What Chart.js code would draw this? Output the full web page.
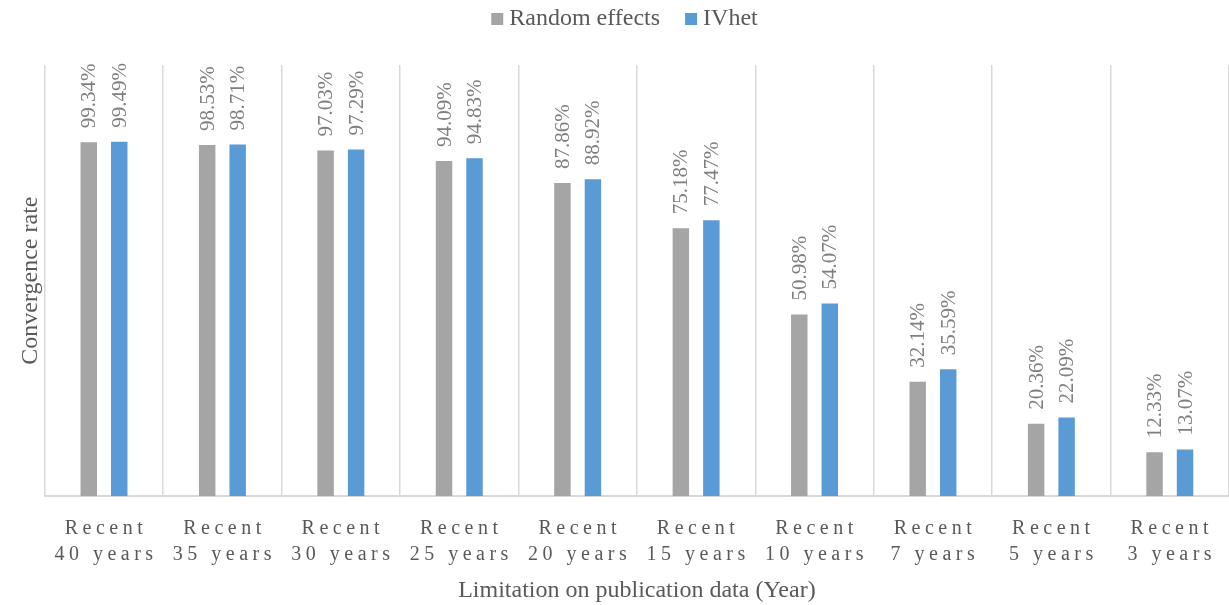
<!DOCTYPE html>
<html>
<head>
<meta charset="utf-8">
<script src="https://cdn.jsdelivr.net/npm/chart.js@4.4.1/dist/chart.umd.min.js"></script>
<style>
    html, body { margin: 0; padding: 0; background: #fff; }
    #wrap { width: 1229px; height: 605px; }
</style>
</head>
<body>
<div id="wrap"><canvas id="convChart" width="1229" height="605"></canvas></div>
<script>
// Chart values (percent)
const periods = [
    ['Recent', '40 years'], ['Recent', '35 years'], ['Recent', '30 years'],
    ['Recent', '25 years'], ['Recent', '20 years'], ['Recent', '15 years'],
    ['Recent', '10 years'], ['Recent', '7 years'], ['Recent', '5 years'],
    ['Recent', '3 years']
];
const randomEffects = [99.34, 98.53, 97.03, 94.09, 87.86, 75.18, 50.98, 32.14, 20.36, 12.33];
const ivhet = [99.49, 98.71, 97.29, 94.83, 88.92, 77.47, 54.07, 35.59, 22.09, 13.07];
const yMax = 121;

const serif = '"Liberation Serif", "Times New Roman", serif';
const tickFontSize = 20;
const tickLineHeight = 26;

// rotated value labels above each bar
const barLabels = {
    id: 'barLabels',
    afterDatasetsDraw(chart) {
        const ctx = chart.ctx;
        ctx.save();
        ctx.font = '21px ' + serif;
        ctx.fillStyle = '#7f7f7f';
        ctx.textAlign = 'left';
        ctx.textBaseline = 'middle';
        chart.data.datasets.forEach((ds, di) => {
            const meta = chart.getDatasetMeta(di);
            meta.data.forEach((bar, i) => {
                ctx.save();
                ctx.translate(bar.x, bar.y - 14);
                ctx.rotate(-Math.PI / 2);
                ctx.fillText(ds.data[i].toFixed(2) + '%', 0, 1);
                ctx.restore();
            });
        });
        ctx.restore();
    }
};

// x tick labels drawn with letter spacing (Chart.js has no option for it)
const spacedTicks = {
    id: 'spacedTicks',
    afterDraw(chart) {
        const scale = chart.scales.x;
        const ctx = chart.ctx;
        ctx.save();
        ctx.font = tickFontSize + 'px ' + serif;
        ctx.fillStyle = '#595959';
        ctx.textAlign = 'center';
        ctx.textBaseline = 'middle';
        if ('letterSpacing' in ctx) ctx.letterSpacing = '4.5px';
        periods.forEach((lines, i) => {
            const x = scale.getPixelForTick(i) + 2;
            lines.forEach((txt, j) => {
                ctx.fillText(txt, x, scale.top + 33 + j * tickLineHeight);
            });
        });
        ctx.restore();
    }
};

// legend drawn by hand: tighter box/text gap than the built-in one
const topLegend = {
    id: 'topLegend',
    afterDraw(chart) {
        const ctx = chart.ctx;
        ctx.save();
        ctx.font = '24px ' + serif;
        ctx.textBaseline = 'middle';
        ctx.textAlign = 'left';
        const items = chart.data.datasets.map(ds => ({
            text: ds.label,
            color: ds.backgroundColor,
            w: ctx.measureText(ds.label).width
        }));
        const box = 12, gap = 6, between = 25;
        let total = 0;
        items.forEach((it, i) => { total += box + gap + it.w + (i ? between : 0); });
        let x = chart.width / 2 + 10 - total / 2;
        items.forEach((it, i) => {
            if (i) x += between;
            ctx.fillStyle = it.color;
            ctx.fillRect(x, 13, box, box);
            x += box + gap;
            ctx.fillStyle = '#595959';
            ctx.fillText(it.text, x, 19);
            x += it.w;
        });
        ctx.restore();
    }
};

const ctx = document.getElementById('convChart').getContext('2d');
new Chart(ctx, {
    type: 'bar',
    data: {
        labels: periods,
        datasets: [
            {
                label: 'Random effects',
                data: randomEffects,
                backgroundColor: '#a5a5a5',
                categoryPercentage: 0.515,
                barPercentage: 0.54
            },
            {
                label: 'IVhet',
                data: ivhet,
                backgroundColor: '#5b9bd5',
                categoryPercentage: 0.515,
                barPercentage: 0.54
            }
        ]
    },
    plugins: [barLabels, spacedTicks, topLegend],
    options: {
        responsive: false,
        animation: false,
        layout: { padding: { left: 16, right: 0, top: 65, bottom: 0 } },
        plugins: {
            legend: { display: false },
            tooltip: { enabled: false }
        },
        scales: {
            x: {
                grid: {
                    color: '#d9d9d9',
                    lineWidth: 1.5,
                    offset: true,
                    drawTicks: false
                },
                border: { color: '#d9d9d9', width: 2 },
                ticks: {
                    color: 'transparent',
                    padding: 8,
                    maxRotation: 0,
                    autoSkip: false,
                    font: { family: serif, size: tickFontSize, lineHeight: 1.3 }
                },
                title: {
                    display: true,
                    text: 'Limitation on publication data (Year)',
                    color: '#595959',
                    padding: { top: 12, bottom: 0 },
                    font: { family: serif, size: 24 }
                }
            },
            y: {
                min: 0,
                max: yMax,
                grid: { display: false, drawTicks: false },
                border: { display: false },
                ticks: { display: false },
                title: {
                    display: true,
                    text: 'Convergence rate',
                    color: '#595959',
                    padding: { top: 0, bottom: 0 },
                    font: { family: serif, size: 24 }
                }
            }
        }
    }
});
</script>
</body>
</html>
